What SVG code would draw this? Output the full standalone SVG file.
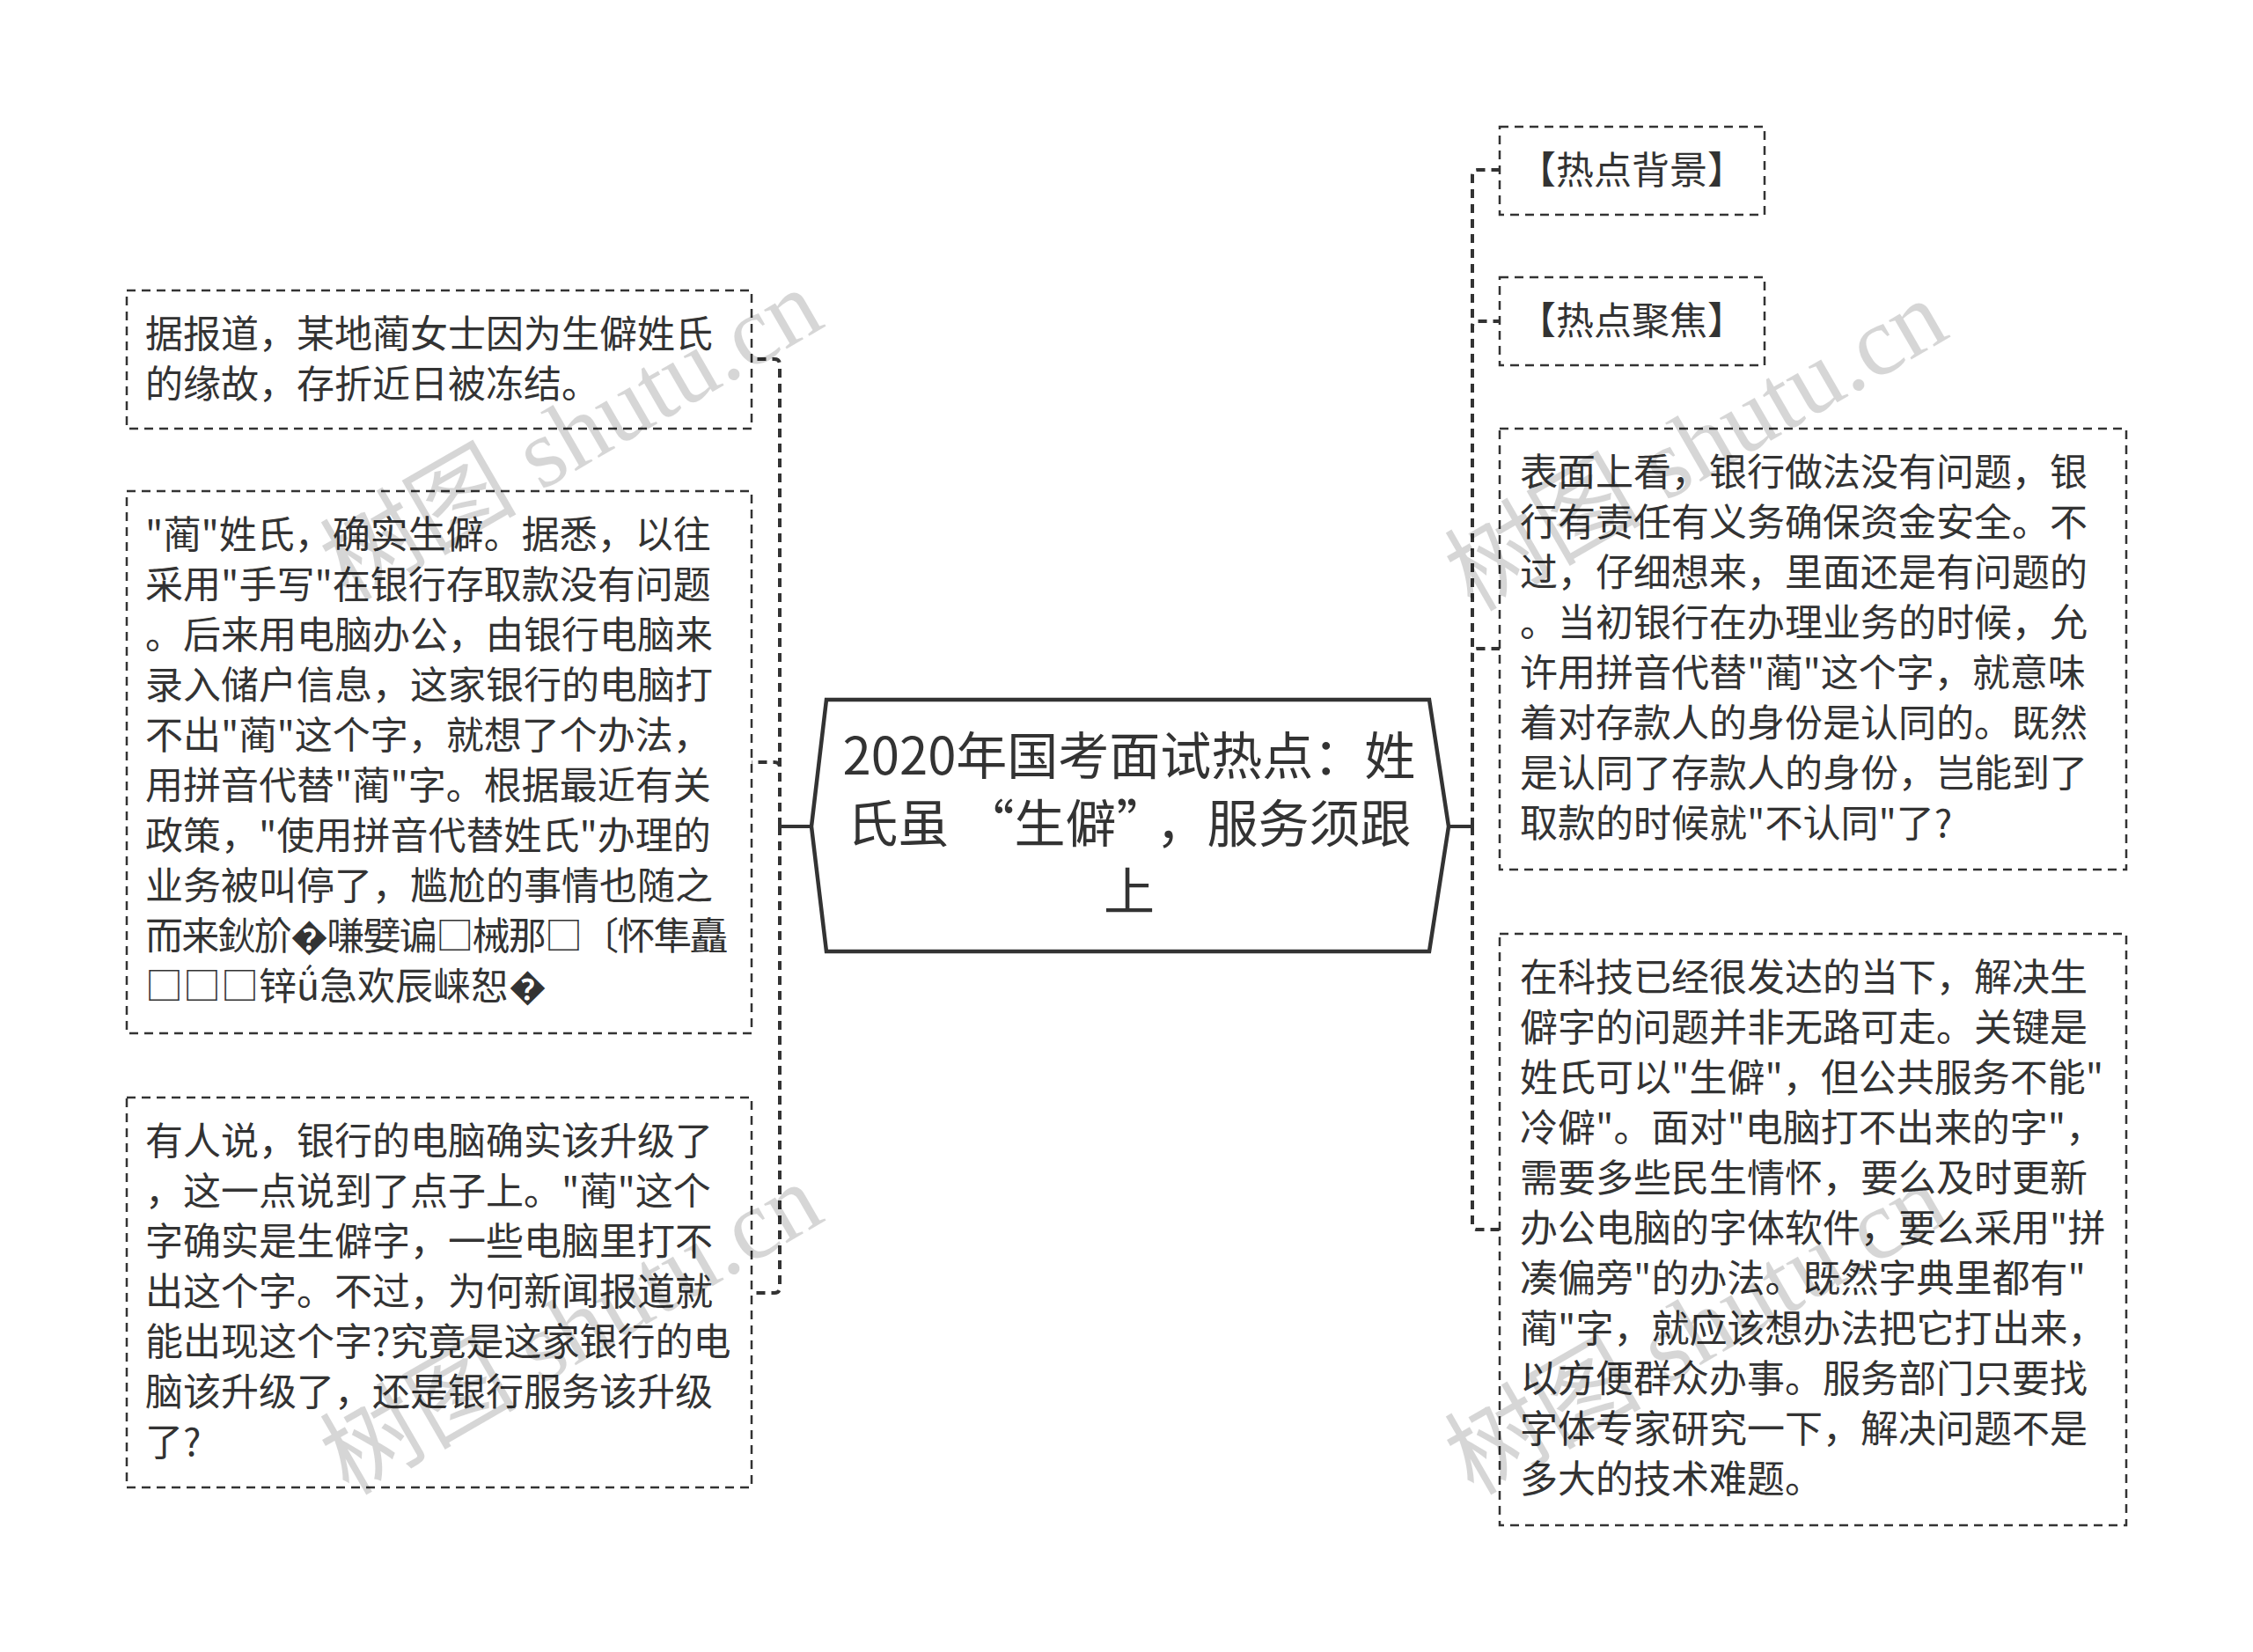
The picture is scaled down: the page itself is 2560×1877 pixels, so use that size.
<svg xmlns="http://www.w3.org/2000/svg" width="2560" height="1877" viewBox="0 0 2560 1877">
<style>
.box{fill:none;stroke:#333;stroke-width:2.5;stroke-dasharray:10 7}
.t{font-family:"Noto Sans CJK SC","Noto Sans",sans-serif;font-size:43px;fill:#333}
.ct{font-family:"Noto Sans CJK SC","Noto Sans",sans-serif;font-size:58px;fill:#333;text-anchor:middle}
.con{fill:none;stroke:#333;stroke-width:4;stroke-dasharray:10 7}
.solid{fill:none;stroke:#333;stroke-width:4}
.wm{font-family:"Liberation Serif","Noto Sans CJK SC",serif;font-size:112px;fill:#000;fill-opacity:0.16;text-anchor:middle}
</style>
<rect width="2560" height="1877" fill="#fff"/>
<g id="connectors">
<path class="solid" d="M922 939H886"/>
<path class="con" d="M886 939V414q0-6-6-6H854"/>
<path class="con" d="M886 939V872q0-6-6-6H854"/>
<path class="con" d="M886 939V1463q0 6-6 6H854"/>
<path class="solid" d="M1646 939H1673"/>
<path class="con" d="M1673 939V199q0-6 6-6H1704"/>
<path class="con" d="M1673 939V371q0-6 6-6H1704"/>
<path class="con" d="M1673 939V743q0-6 6-6H1704"/>
<path class="con" d="M1673 939V1391q0 6 6 6H1704"/>
</g>
<g id="center">
<polygon points="939,795 1624,795 1646,939 1624,1081 939,1081 922,939" fill="#fff" stroke="#333" stroke-width="4.5"/>
<text class="ct" x="1283" y="880">2020年国考面试热点：姓<tspan x="1283" dy="77">氏虽</tspan><tspan dx="16">“生僻”</tspan><tspan dx="16">，服务须跟</tspan><tspan x="1283" dy="77">上</tspan></text>
</g>
<g id="left1">
<rect class="box" x="144" y="330" width="710" height="157"/>
<text class="t" x="165" y="395">据报道，某地蔺女士因为生僻姓氏<tspan x="165" dy="57">的缘故，存折近日被冻结。</tspan></text>
</g>
<g id="left2">
<rect class="box" x="144" y="558" width="710" height="616"/>
<text class="t" x="165" y="623">"蔺"姓氏，确实生僻。据悉，以往<tspan x="165" dy="57">采用"手写"在银行存取款没有问题</tspan><tspan x="165" dy="57">。后来用电脑办公，由银行电脑来</tspan><tspan x="165" dy="57">录入储户信息，这家银行的电脑打</tspan><tspan x="165" dy="57">不出"蔺"这个字，就想了个办法，</tspan><tspan x="165" dy="57">用拼音代替"蔺"字。根据最近有关</tspan><tspan x="165" dy="57">政策，"使用拼音代替姓氏"办理的</tspan><tspan x="165" dy="57">业务被叫停了，尴尬的事情也随之</tspan><tspan x="165" dy="57" textLength="662" lengthAdjust="spacing">而来鈥斺�嗛嬖谝□械那□〔怀隼矗</tspan><tspan x="165" dy="57">□□□锌ǘ急欢辰崃恕�</tspan></text>
</g>
<g id="left3">
<rect class="box" x="144" y="1247" width="710" height="443"/>
<text class="t" x="165" y="1312">有人说，银行的电脑确实该升级了<tspan x="165" dy="57">，这一点说到了点子上。"蔺"这个</tspan><tspan x="165" dy="57">字确实是生僻字，一些电脑里打不</tspan><tspan x="165" dy="57">出这个字。不过，为何新闻报道就</tspan><tspan x="165" dy="57">能出现这个字?究竟是这家银行的电</tspan><tspan x="165" dy="57">脑该升级了，还是银行服务该升级</tspan><tspan x="165" dy="57">了?</tspan></text>
</g>
<g id="right1">
<rect class="box" x="1704" y="144" width="301" height="100"/>
<text class="t" x="1725" y="209">【热点背景】</text>
</g>
<g id="right2">
<rect class="box" x="1704" y="315" width="301" height="100"/>
<text class="t" x="1725" y="380">【热点聚焦】</text>
</g>
<g id="right3">
<rect class="box" x="1704" y="487" width="712" height="501"/>
<text class="t" x="1727" y="552">表面上看，银行做法没有问题，银<tspan x="1727" dy="57">行有责任有义务确保资金安全。不</tspan><tspan x="1727" dy="57">过，仔细想来，里面还是有问题的</tspan><tspan x="1727" dy="57">。当初银行在办理业务的时候，允</tspan><tspan x="1727" dy="57">许用拼音代替"蔺"这个字，就意味</tspan><tspan x="1727" dy="57">着对存款人的身份是认同的。既然</tspan><tspan x="1727" dy="57">是认同了存款人的身份，岂能到了</tspan><tspan x="1727" dy="57">取款的时候就"不认同"了?</tspan></text>
</g>
<g id="right4">
<rect class="box" x="1704" y="1061" width="712" height="672"/>
<text class="t" x="1727" y="1126">在科技已经很发达的当下，解决生<tspan x="1727" dy="57">僻字的问题并非无路可走。关键是</tspan><tspan x="1727" dy="57">姓氏可以"生僻"，但公共服务不能"</tspan><tspan x="1727" dy="57">冷僻"。面对"电脑打不出来的字"，</tspan><tspan x="1727" dy="57">需要多些民生情怀，要么及时更新</tspan><tspan x="1727" dy="57">办公电脑的字体软件，要么采用"拼</tspan><tspan x="1727" dy="57">凑偏旁"的办法。既然字典里都有"</tspan><tspan x="1727" dy="57">蔺"字，就应该想办法把它打出来，</tspan><tspan x="1727" dy="57">以方便群众办事。服务部门只要找</tspan><tspan x="1727" dy="57">字体专家研究一下，解决问题不是</tspan><tspan x="1727" dy="57">多大的技术难题。</tspan></text>
</g>
<g id="watermarks">
<text class="wm" transform="translate(649,494) rotate(-30)" y="38">树图 shutu.cn</text>
<text class="wm" transform="translate(1927,506) rotate(-30)" y="38">树图 shutu.cn</text>
<text class="wm" transform="translate(649,1510) rotate(-30)" y="38">树图 shutu.cn</text>
<text class="wm" transform="translate(1927,1510) rotate(-30)" y="38">树图 shutu.cn</text>
</g>
</svg>
